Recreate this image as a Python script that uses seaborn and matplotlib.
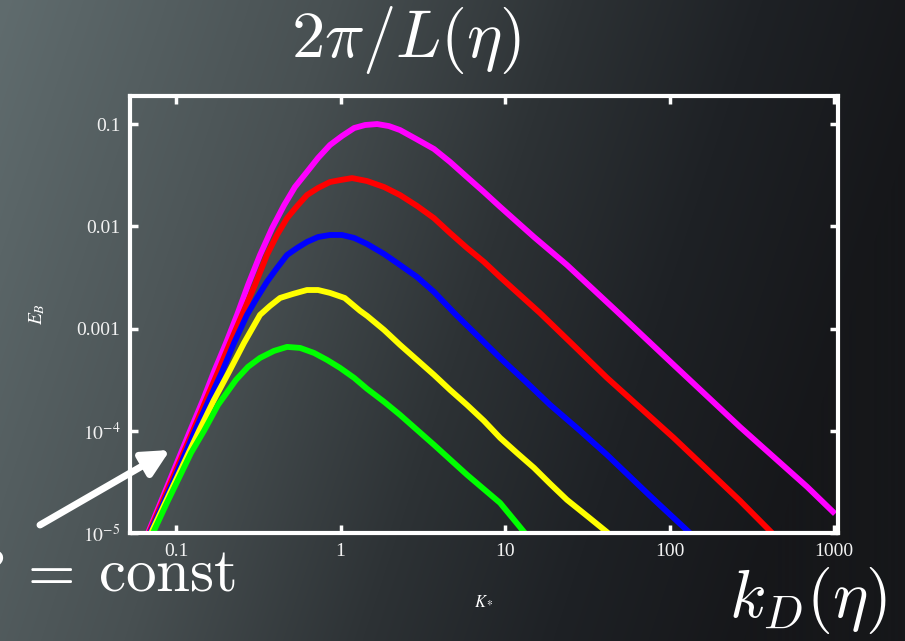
import numpy as np
import pandas as pd
import matplotlib
matplotlib.use('Agg')
import matplotlib.pyplot as plt
import seaborn as sns
from matplotlib.ticker import FixedLocator, FixedFormatter, NullLocator

# spectra: K_* and E_B for each curve
magenta_k = [0.0676, 0.0907, 0.1217, 0.1459, 0.170, 0.2014, 0.235, 0.274, 0.324, 0.384,
             0.454, 0.528, 0.625, 0.730, 0.863, 1.02, 1.21, 1.41, 1.67, 1.97,
             2.30, 2.88, 3.70, 4.63, 5.87, 7.45, 9.33, 15.0, 23.8, 46.0,
             106, 268, 686, 1014]
magenta_e = [1e-5, 3.16e-5, 1e-4, 2.0e-4, 3.77e-4, 7.23e-4, 1.36e-3, 2.67e-3, 5.24e-3, 9.62e-3,
             0.0161, 0.0242, 0.034, 0.0466, 0.0624, 0.0763, 0.0914, 0.0978, 0.1, 0.0955,
             0.0873, 0.0715, 0.0570, 0.0426, 0.0303, 0.0216, 0.0155, 7.85e-3, 4.18e-3, 1.56e-3,
             4.41e-4, 1.09e-4, 2.83e-5, 1.54e-5]

red_k = [0.0686, 0.0932, 0.1269, 0.1522, 0.180, 0.2129, 0.252, 0.302, 0.357, 0.411,
         0.473, 0.545, 0.625, 0.730, 0.863, 1.007, 1.175, 1.45, 1.84, 2.30,
         2.92, 3.70, 4.63, 5.87, 7.45, 9.33, 16.3, 25.9, 41.7, 106,
         268, 420]
red_e = [1e-5, 3.16e-5, 1e-4, 2.0e-4, 3.77e-4, 7.23e-4, 1.36e-3, 2.67e-3, 5.24e-3, 8.22e-3,
         0.0120, 0.0158, 0.0202, 0.0237, 0.0271, 0.0284, 0.0296, 0.0277, 0.0242, 0.0202,
         0.0158, 0.0120, 8.6e-3, 6.14e-3, 4.48e-3, 3.19e-3, 1.42e-3, 6.92e-4, 3.29e-4, 8.53e-5,
         2.07e-5, 1e-5]

blue_k = [0.0695, 0.0959, 0.1304, 0.1587, 0.1904, 0.2253, 0.270, 0.310, 0.357, 0.411,
          0.473, 0.545, 0.625, 0.730, 0.863, 1.02, 1.21, 1.45, 1.84, 2.30,
          2.92, 3.70, 5.04, 9.33, 13.2, 18.8, 27.8, 41.7, 76.0, 133]
blue_e = [1e-5, 3.16e-5, 1e-4, 2.0e-4, 3.77e-4, 7.23e-4, 1.36e-3, 1.99e-3, 2.86e-3, 3.91e-3,
          5.24e-3, 6.14e-3, 7.03e-3, 7.85e-3, 8.22e-3, 8.22e-3, 7.69e-3, 6.71e-3, 5.36e-3, 4.18e-3,
          3.19e-3, 2.28e-3, 1.36e-3, 5.16e-4, 3.08e-4, 1.79e-4, 1.04e-4, 5.81e-5, 2.31e-5, 1e-5]

yellow_k = [0.0705, 0.0986, 0.138, 0.170, 0.210, 0.259, 0.324, 0.372, 0.429, 0.514,
            0.625, 0.730, 0.863, 1.06, 1.314, 1.45, 1.84, 2.30, 2.92, 3.70,
            4.63, 5.87, 7.45, 9.33, 11.8, 15.0, 18.8, 23.8, 32.0, 42.3]
yellow_e = [1e-5, 3.16e-5, 1e-4, 2.0e-4, 3.77e-4, 7.23e-4, 1.36e-3, 1.66e-3, 1.99e-3, 2.18e-3,
            2.38e-3, 2.38e-3, 2.23e-3, 1.99e-3, 1.49e-3, 1.33e-3, 9.68e-4, 6.92e-4, 4.93e-4, 3.52e-4,
            2.51e-4, 1.79e-4, 1.25e-4, 8.53e-5, 6.08e-5, 4.34e-5, 3.03e-5, 2.11e-5, 1.44e-5, 1e-5]

green_k = [0.0724, 0.0869, 0.1043, 0.1234, 0.148, 0.180, 0.2316, 0.274, 0.324, 0.394,
           0.473, 0.568, 0.690, 0.828, 0.993, 1.21, 1.45, 1.84, 2.30, 3.70,
           5.87, 9.33, 13.2]
green_e = [1e-5, 1.89e-5, 3.47e-5, 6.08e-5, 1e-4, 1.79e-4, 3.15e-4, 4.22e-4, 5.16e-4, 6.04e-4,
           6.61e-4, 6.46e-4, 5.77e-4, 4.93e-4, 4.12e-4, 3.29e-4, 2.57e-4, 1.92e-4, 1.43e-4, 7.28e-5,
           3.71e-5, 1.97e-5, 1e-5]

x_ticks = [0.1, 1, 10, 100, 1000]
x_ticklabels = ['0.1', '1', '10', '100', '1000']
y_ticks = [1e-5, 1e-4, 1e-3, 1e-2, 1e-1]
y_ticklabels = [r'$10^{-5}$', r'$10^{-4}$', '0.001', '0.01', '0.1']

curves = {'magenta': (magenta_k, magenta_e), 'red': (red_k, red_e), 'blue': (blue_k, blue_e),
          'yellow': (yellow_k, yellow_e), 'green': (green_k, green_e)}
palette = {'magenta': '#ff00ff', 'red': '#ff0000', 'blue': '#0000ff',
           'yellow': '#ffff00', 'green': '#00ff00'}

df = pd.concat([pd.DataFrame({'k': k, 'E': e, 'curve': name}) for name, (k, e) in curves.items()],
               ignore_index=True)

sns.set_style('ticks')
plt.rcParams['font.family'] = ['Liberation Serif', 'DejaVu Serif']
plt.rcParams['mathtext.fontset'] = 'stix'

W, H = 905, 641
fig = plt.figure(figsize=(W / 100, H / 100), dpi=100)

# dark slide background
bg = fig.add_axes([0, 0, 1, 1], zorder=-10)
xx, yy = np.meshgrid(np.linspace(0, 1, W), np.linspace(0, 1, H))
t = np.clip(0.95 * xx + 0.22 * yy, 0, 1)
stops = [0.0, 0.35, 0.6, 0.8, 1.0]
cols = np.array([[96, 108, 110], [72, 80, 82], [45, 50, 53], [30, 33, 37], [22, 23, 26]]) / 255
img = np.dstack([np.interp(t, stops, cols[:, c]) for c in range(3)])
bg.imshow(img, aspect='auto', extent=[0, 1, 0, 1], origin='upper')
bg.axis('off')

ax = fig.add_axes([130 / W, 1 - 533 / H, (838 - 130) / W, (533 - 96) / H])
ax.set_facecolor('none')

sns.lineplot(data=df, x='k', y='E', hue='curve', palette=palette, sort=False,
             estimator=None, linewidth=4.2, legend=False, ax=ax)
for ln in ax.lines:
    ln.set_solid_joinstyle('round')
    ln.set_solid_capstyle('butt')

ax.set_xscale('log')
ax.set_yscale('log')
ax.set_xlim(0.0525, 1057)
ax.set_ylim(1e-5, 0.188)

ax.xaxis.set_major_locator(FixedLocator(x_ticks))
ax.xaxis.set_major_formatter(FixedFormatter(x_ticklabels))
ax.yaxis.set_major_locator(FixedLocator(y_ticks))
ax.yaxis.set_major_formatter(FixedFormatter(y_ticklabels))
ax.xaxis.set_minor_locator(NullLocator())
ax.yaxis.set_minor_locator(NullLocator())

ax.tick_params(which='major', direction='in', length=6, width=2.5, color='white',
               labelcolor='#f2f2f2', labelsize=14, top=True, right=True, pad=7)
for s in ax.spines.values():
    s.set_color('white')
    s.set_linewidth(3)

ax.set_xlabel(r'$K_*$', color='white', fontsize=12, labelpad=24)
ax.set_ylabel(r'$E_B$', color='white', fontsize=14, labelpad=21)

fig.text(406 / W, 1 - 40 / H, r'$2\pi/L(\eta)$', color='white', fontsize=48,
         ha='center', va='center', math_fontfamily='cm')
fig.text(808 / W, 1 - 600 / H, r'$k_D(\eta)$', color='white', fontsize=48,
         ha='center', va='center', math_fontfamily='cm')
fig.text(236 / W, 1 - 576 / H, r'$B\;=\:\mathrm{const}$', color='white', fontsize=44,
         ha='right', va='center', math_fontfamily='cm')

ax.annotate('', xy=(170, H - 450), xytext=(40, H - 525), xycoords='figure pixels',
            textcoords='figure pixels', annotation_clip=False,
            arrowprops=dict(arrowstyle='-|>', color='white', lw=5, mutation_scale=40,
                            shrinkA=0, shrinkB=0))

fig.savefig('out.png', dpi=100)
